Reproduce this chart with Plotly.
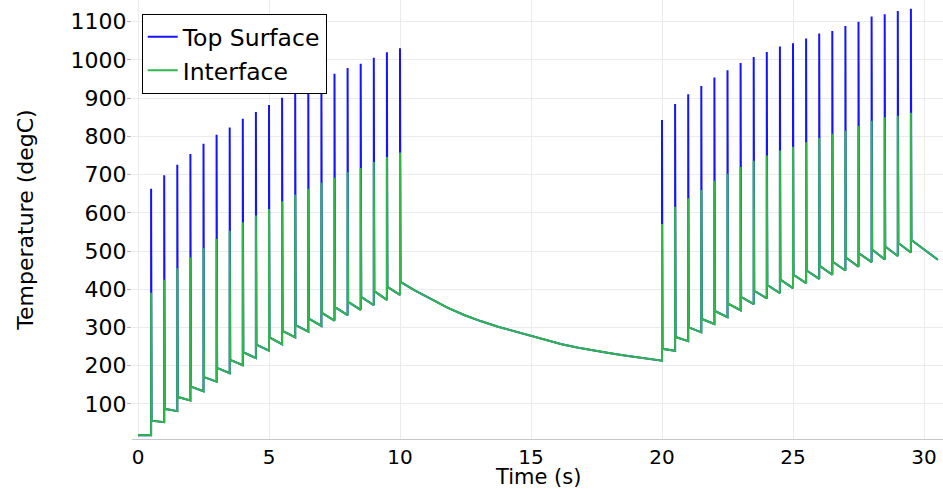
import plotly.graph_objects as go

# Heating pulses: two trains of 20 pulses, 0.5 s apart
pulse_times_1 = [0.5, 1.0, 1.5, 2.0, 2.5, 3.0, 3.5, 4.0, 4.5, 5.0,
                 5.5, 6.0, 6.5, 7.0, 7.5, 8.0, 8.5, 9.0, 9.5, 10.0]
pulse_times_2 = [20.0, 20.5, 21.0, 21.5, 22.0, 22.5, 23.0, 23.5, 24.0, 24.5,
                 25.0, 25.5, 26.0, 26.5, 27.0, 27.5, 28.0, 28.5, 29.0, 29.5]

# Initial temperature before the first pulse (degC)
initial_time = [0.0]
initial_temp = [18]

# Peak temperatures reached at each pulse
top_peaks_1 = [663, 698, 726, 754, 781, 804, 823, 846, 864, 882,
               901, 919, 935, 949, 964, 979, 990, 1006, 1020, 1031]
top_peaks_2 = [843, 885, 910, 932, 954, 973, 992, 1008, 1021, 1035,
               1044, 1056, 1069, 1076, 1089, 1100, 1114, 1120, 1128, 1134]
int_peaks_1 = [391, 425, 455, 484, 508, 532, 553, 575, 593, 610,
               630, 647, 663, 679, 692, 706, 717, 733, 746, 758]
int_peaks_2 = [571, 616, 638, 660, 684, 702, 720, 736, 750, 763,
               773, 785, 796, 807, 815, 827, 841, 850, 854, 862]

# Temperature just after each pulse and just before the next one
after_pulse_1 = [56, 87, 118, 145, 170, 194, 215, 235, 255, 274,
                 291, 306, 323, 338, 353, 367, 380, 395, 406, 419]
before_next_1 = [52, 81, 109, 133, 158, 180, 201, 220, 239, 256,
                 274, 289, 304, 318, 332, 346, 358, 372, 385]
after_pulse_2 = [244, 275, 300, 322, 343, 362, 380, 396, 411, 425,
                 438, 449, 461, 472, 483, 494, 504, 512, 521, 529]
before_next_2 = [239, 264, 287, 309, 327, 345, 361, 376, 390, 403,
                 416, 427, 438, 449, 459, 471, 478, 487, 496]

# Cooling between the two pulse trains, and after the last pulse
cool_times = [10.56, 11.2, 11.83, 12.47, 13.1, 13.74, 14.38, 15.01,
              15.53, 16.17, 16.81, 17.44, 18.08, 18.71, 19.35, 20.0]
cool_temps = [397, 373, 351, 332, 316, 302, 290, 278,
              268, 256, 247, 239, 232, 225, 219, 213]
tail_times = [30.53]
tail_temps = [477]

PULSE_FALL = 0.02  # duration of the drop after each peak


def build_series(peaks_1, peaks_2):
    t = list(initial_time) + [pulse_times_1[0]]
    y = list(initial_temp) + [initial_temp[-1]]
    for i, tp in enumerate(pulse_times_1):
        t += [tp, tp + PULSE_FALL]
        y += [peaks_1[i], after_pulse_1[i]]
        if i < len(before_next_1):
            t.append(pulse_times_1[i + 1])
            y.append(before_next_1[i])
    t += cool_times
    y += cool_temps
    for i, tp in enumerate(pulse_times_2):
        t += [tp, tp + PULSE_FALL]
        y += [peaks_2[i], after_pulse_2[i]]
        if i < len(before_next_2):
            t.append(pulse_times_2[i + 1])
            y.append(before_next_2[i])
    t += tail_times
    y += tail_temps
    return t, y


t_top, y_top = build_series(top_peaks_1, top_peaks_2)
t_int, y_int = build_series(int_peaks_1, int_peaks_2)

BLUE = "#1414ff"
GREEN = "#2fb84a"
FONT = "DejaVu Sans"

fig = go.Figure()
fig.add_trace(go.Scatter(x=t_top, y=y_top, mode="lines", name="Top Surface",
                         line=dict(color=BLUE, width=2)))
fig.add_trace(go.Scatter(x=t_int, y=y_int, mode="lines", name="Interface",
                         line=dict(color=GREEN, width=2)))

fig.update_layout(
    width=943, height=489,
    margin=dict(l=132, r=0, t=0, b=50),
    paper_bgcolor="white", plot_bgcolor="white",
    font=dict(family=FONT, size=22, color="black"),
    legend=dict(x=0.012, y=0.968, xanchor="left", yanchor="top",
                bgcolor="white", bordercolor="black", borderwidth=1,
                font=dict(family=FONT, size=23.5), tracegroupgap=0,
                itemwidth=30),
    showlegend=True,
    annotations=[dict(text="Time (s)", xref="paper", yref="paper",
                      x=0.5, y=-0.086, xanchor="center", yanchor="middle",
                      showarrow=False, font=dict(family=FONT, size=21))],
)
fig.update_xaxes(
    range=[-0.229, 30.725], tickvals=[0, 5, 10, 15, 20, 25, 30],
    showgrid=True, gridcolor="#ebebeb", gridwidth=1,
    zeroline=False, showline=True, linecolor="#c8c8c8", linewidth=1,
    ticks="", tickfont=dict(size=20),
)
fig.update_yaxes(
    range=[8, 1157], tickvals=[100, 200, 300, 400, 500, 600, 700, 800, 900, 1000, 1100],
    showgrid=True, gridcolor="#ebebeb", gridwidth=1,
    zeroline=False, showline=False,
    ticks="outside", ticklen=4, tickcolor="#b0b0b0",
    tickfont=dict(size=22), ticklabelstandoff=-4,
    title=dict(text="Temperature (degC)", font=dict(size=22), standoff=30),
)

fig.write_html("out.html")
